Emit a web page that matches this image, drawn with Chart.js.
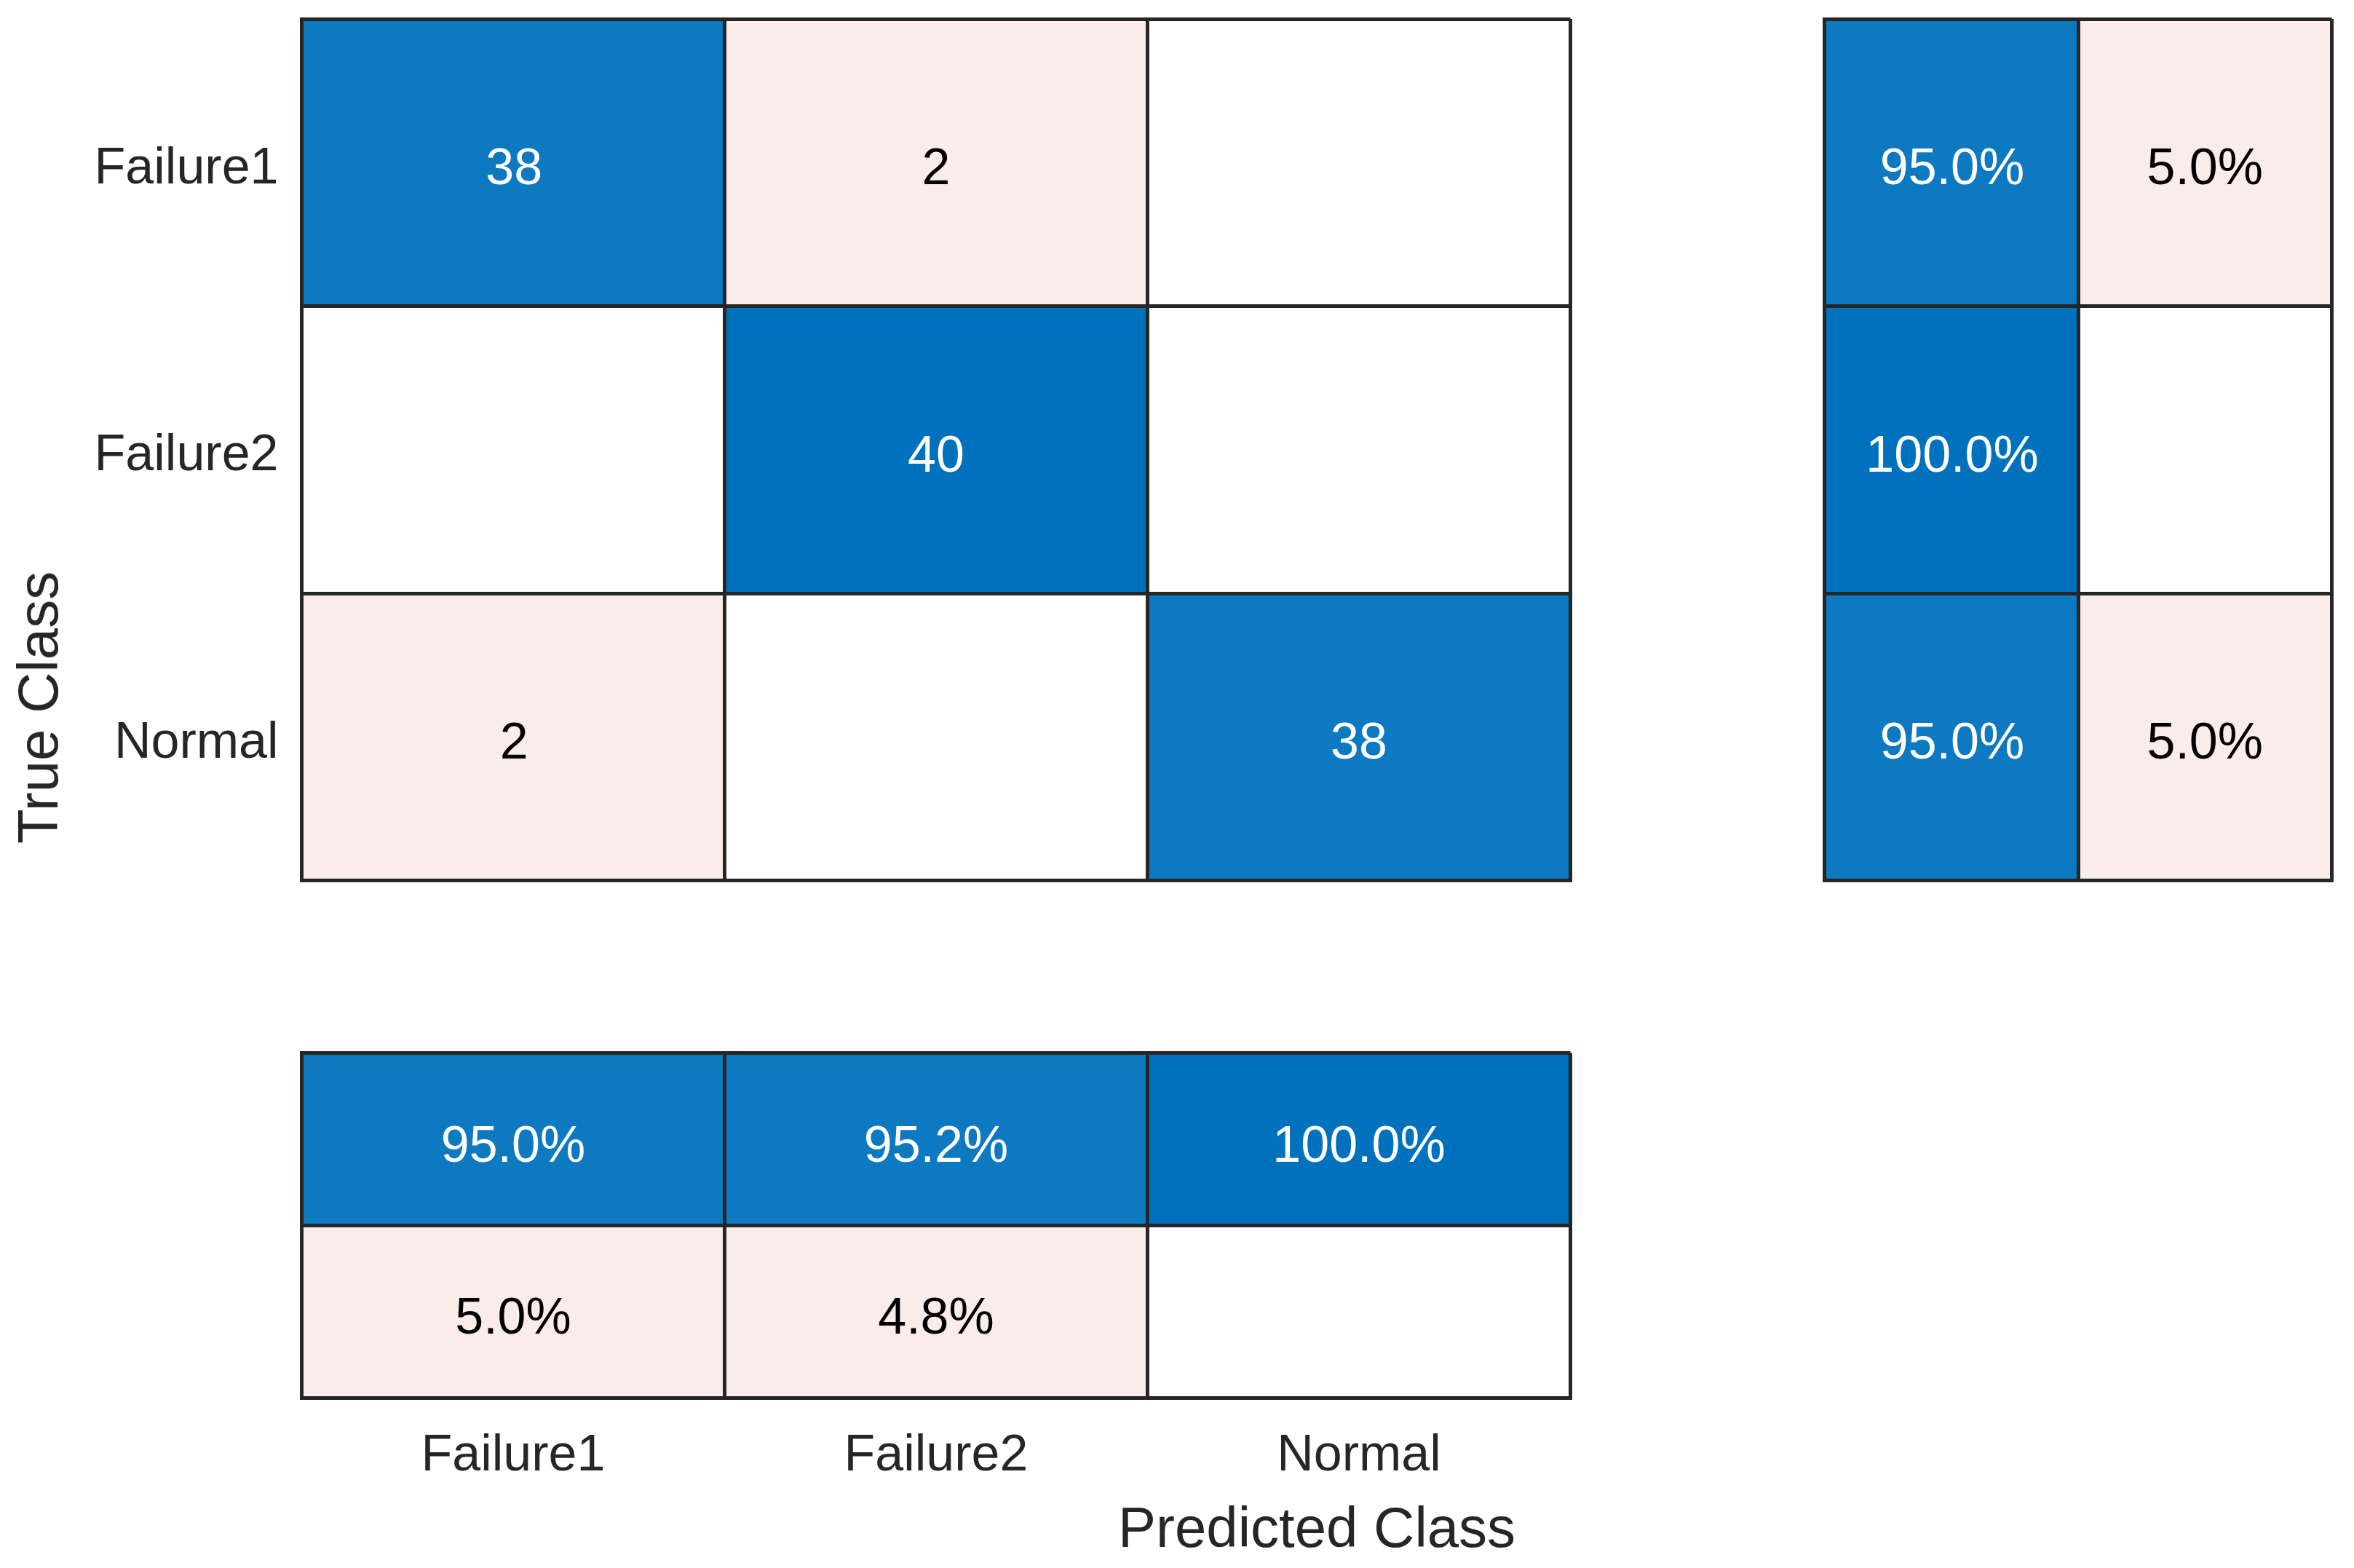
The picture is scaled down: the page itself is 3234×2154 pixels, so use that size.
<!DOCTYPE html>
<html>
<head>
<meta charset="utf-8">
<script src="https://cdn.jsdelivr.net/npm/chart.js@4.4.0/dist/chart.umd.min.js"></script>
<style>
  html, body { margin: 0; padding: 0; background: #fff; overflow: hidden; }
  #page { position: relative; width: 3234px; height: 2154px; }
  canvas { position: absolute; }
  .axtitle {
    position: absolute; font-family: "Liberation Sans", Arial, sans-serif;
    font-size: 78px; line-height: 1; color: #262626; white-space: nowrap;
  }
</style>
</head>
<body>
<div id="page">
  <canvas id="main" width="2200" height="1240" style="left:0;top:0"></canvas>
  <canvas id="rows" width="754" height="1240" style="left:2480px;top:0"></canvas>
  <canvas id="cols" width="2200" height="734" style="left:0;top:1420px"></canvas>
  <div class="axtitle" style="left:51.5px;top:972px;transform:translate(-50%,-50%) rotate(-90deg)">True Class</div>
  <div class="axtitle" style="left:1809px;top:2098px;transform:translate(-50%,-50%)">Predicted Class</div>
</div>
<script>
// class names, used on both axes
const classes = ['Failure1', 'Failure2', 'Normal'];
// confusion counts, rows = true class, cols = predicted class
const counts = [
  [38, 2, 0],
  [0, 40, 0],
  [2, 0, 38]
];
// row summary (right panel): correct % / wrong % per true class
const rowCorrect = [95.0, 100.0, 95.0];
const rowWrong = [5.0, 0, 5.0];
// column summary (bottom panel): correct % / wrong % per predicted class
const colCorrect = [95.0, 95.2, 100.0];
const colWrong = [5.0, 4.8, 0];

const LINE = '#262626';
const PINK = '#FAECE8';

Chart.defaults.font.family = '"Liberation Sans", Arial, sans-serif';
Chart.defaults.animation = false;

// white -> matlab blue
function blue(t) {
  return 'rgb(' + Math.round(255 - t * 255) + ',' + Math.round(255 - t * 141) + ',' + Math.round(255 - t * 66) + ')';
}
function cellFill(v, good, max) {
  if (!v) return '#ffffff';
  return good ? blue(v / max) : PINK;
}
function txtColor(v, good) {
  return good ? '#ffffff' : '#000000';
}

// writes the value label in the middle of every bar (cell)
const cellText = {
  id: 'cellText',
  afterDraw(chart) {
    const ctx = chart.ctx;
    const horiz = chart.options.indexAxis === 'y';
    ctx.save();
    ctx.font = '70px "Liberation Sans", Arial, sans-serif';
    ctx.textAlign = 'center';
    ctx.textBaseline = 'alphabetic';
    chart.data.datasets.forEach((ds, j) => {
      chart.getDatasetMeta(j).data.forEach((bar, i) => {
        const txt = ds.cellLabels[i];
        if (!txt) return;
        const p = bar.getProps(['x', 'y', 'base'], true);
        const cx = horiz ? (p.x + p.base) / 2 : p.x;
        const cy = horiz ? p.y : (p.y + p.base) / 2;
        ctx.fillStyle = ds.textColors[i];
        ctx.fillText(txt, cx, cy + 30);
      });
    });
    ctx.restore();
  }
};

// grid + border drawn above the cells
function gridOpts() {
  return { color: LINE, lineWidth: 5, drawTicks: false, z: 1 };
}
function borderOpts() {
  return { display: true, color: LINE, width: 5, z: 1 };
}
// fixed axis size, no extra room for overhanging labels
function fixSize(w, h) {
  return function(s) {
    if (w !== null) s.width = w;
    if (h !== null) s.height = h;
    s.paddingTop = 0; s.paddingBottom = 0;
    s.paddingLeft = 0; s.paddingRight = 0;
  };
}
function baseOpts(indexAxis, padding) {
  return {
    responsive: false,
    maintainAspectRatio: false,
    devicePixelRatio: 1,
    indexAxis: indexAxis,
    layout: { padding: padding },
    plugins: { legend: { display: false }, tooltip: { enabled: false } },
    datasets: { bar: { grouped: false, barPercentage: 1, categoryPercentage: 1, borderWidth: 0 } }
  };
}

// ---- main confusion matrix ----
let mainOpts = baseOpts('y', { top: 26, right: 42.5, bottom: 30.5, left: 0 });
mainOpts.scales = {
  x: {
    type: 'linear', min: 0, max: 3,
    ticks: { display: false, stepSize: 1 },
    grid: gridOpts(), border: borderOpts(),
    afterFit: fixSize(null, 0)
  },
  y: {
    type: 'category',
    ticks: { font: { size: 70 }, color: LINE, padding: 32, labelOffset: 9 },
    grid: Object.assign(gridOpts(), { offset: true }), border: borderOpts(),
    afterFit: fixSize(414.5, null)
  }
};
new Chart(document.getElementById('main'), {
  type: 'bar',
  data: {
    labels: classes,
    datasets: classes.map((c, j) => ({
      label: c,
      data: classes.map(() => [j, j + 1]),
      backgroundColor: counts.map((row, i) => cellFill(row[j], i === j, 40)),
      cellLabels: counts.map(row => row[j] ? String(row[j]) : ''),
      textColors: counts.map((row, i) => txtColor(row[j], i === j))
    }))
  },
  options: mainOpts,
  plugins: [cellText]
});

// ---- right panel: per true class ----
const rowCols = [rowCorrect, rowWrong];
let rowOpts = baseOpts('y', { top: 26, right: 30.5, bottom: 30.5, left: 26.5 });
rowOpts.scales = {
  x: {
    type: 'linear', min: 0, max: 2,
    ticks: { display: false, stepSize: 1 },
    grid: gridOpts(), border: borderOpts(),
    afterFit: fixSize(null, 0)
  },
  y: {
    type: 'category',
    ticks: { display: false },
    grid: Object.assign(gridOpts(), { offset: true }), border: borderOpts(),
    afterFit: fixSize(0, null)
  }
};
new Chart(document.getElementById('rows'), {
  type: 'bar',
  data: {
    labels: classes,
    datasets: rowCols.map((vals, j) => ({
      data: classes.map(() => [j, j + 1]),
      backgroundColor: vals.map(v => cellFill(v, j === 0, 100)),
      cellLabels: vals.map(v => v ? v.toFixed(1) + '%' : ''),
      textColors: vals.map(v => txtColor(v, j === 0))
    }))
  },
  options: rowOpts,
  plugins: [cellText]
});

// ---- bottom panel: per predicted class ----
const colRows = [colCorrect, colWrong];
let colOpts = baseOpts('x', { top: 26.5, right: 42.5, bottom: 0, left: 414.5 });
colOpts.scales = {
  x: {
    type: 'category',
    ticks: { font: { size: 70, lineHeight: 1.2 }, color: LINE, padding: 39, maxRotation: 0 },
    grid: Object.assign(gridOpts(), { offset: true }), border: borderOpts(),
    afterFit: fixSize(null, 234)
  },
  y: {
    type: 'linear', min: 0, max: 2, reverse: true,
    ticks: { display: false, stepSize: 1 },
    grid: gridOpts(), border: borderOpts(),
    afterFit: fixSize(0, null)
  }
};
new Chart(document.getElementById('cols'), {
  type: 'bar',
  data: {
    labels: classes,
    datasets: colRows.map((vals, r) => ({
      data: classes.map(() => [r, r + 1]),
      backgroundColor: vals.map(v => cellFill(v, r === 0, 100)),
      cellLabels: vals.map(v => v ? v.toFixed(1) + '%' : ''),
      textColors: vals.map(v => txtColor(v, r === 0))
    }))
  },
  options: colOpts,
  plugins: [cellText]
});
</script>
</body>
</html>
